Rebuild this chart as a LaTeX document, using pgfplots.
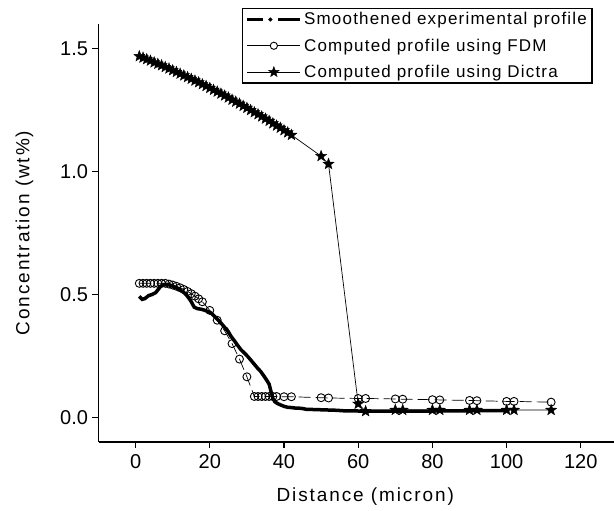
\documentclass[border=0pt]{standalone}
\usepackage{fontspec}
\setmainfont{Liberation Sans}
\newfontfamily\lsfont[LetterSpace=10]{Liberation Sans}
\newfontfamily\lgfont[LetterSpace=7]{Liberation Sans}
\usepackage{pgfplots}
\pgfplotsset{compat=1.18}
\pgfdeclareplotmark{fstar}{%
  \pgfpathmoveto{\pgfpointpolar{90}{\pgfplotmarksize}}%
  \pgfpathlineto{\pgfpointpolar{126}{0.42\pgfplotmarksize}}%
  \pgfpathlineto{\pgfpointpolar{162}{\pgfplotmarksize}}%
  \pgfpathlineto{\pgfpointpolar{198}{0.42\pgfplotmarksize}}%
  \pgfpathlineto{\pgfpointpolar{234}{\pgfplotmarksize}}%
  \pgfpathlineto{\pgfpointpolar{270}{0.42\pgfplotmarksize}}%
  \pgfpathlineto{\pgfpointpolar{306}{\pgfplotmarksize}}%
  \pgfpathlineto{\pgfpointpolar{342}{0.42\pgfplotmarksize}}%
  \pgfpathlineto{\pgfpointpolar{18}{\pgfplotmarksize}}%
  \pgfpathlineto{\pgfpointpolar{54}{0.42\pgfplotmarksize}}%
  \pgfpathclose
  \pgfusepathqfillstroke}
\pgfplotstableread{
x y
1 0.492
1.8 0.480
2.5 0.483
3.5 0.495
4.5 0.500
5.4 0.507
6.2 0.522
6.8 0.534
7.7 0.540
8.6 0.541
9.5 0.537
10.4 0.531
11.5 0.523
12.3 0.515
13.1 0.507
14.0 0.492
14.9 0.473
15.8 0.448
16.7 0.442
17.6 0.440
18.5 0.436
19.4 0.431
20.3 0.425
21.2 0.412
22.1 0.398
23.0 0.384
24.0 0.366
25.0 0.348
25.7 0.330
26.6 0.312
27.5 0.293
28.4 0.275
29.3 0.262
30.2 0.248
31.0 0.234
32.0 0.216
33.0 0.198
33.7 0.187
34.6 0.168
35.4 0.150
36.0 0.135
36.5 0.105
37.0 0.078
37.5 0.064
38.3 0.056
39.2 0.050
40.0 0.045
41.0 0.041
42.0 0.040
43.0 0.038
44.6 0.037
46.0 0.033
48.0 0.032
50.0 0.031
52.0 0.030
54.0 0.029
56.0 0.027
60.0 0.026
70.0 0.026
80.0 0.026
90.0 0.027
100.0 0.028
}\expdata
\pgfplotstableread{
x y
1 0.545
2 0.545
3 0.545
4 0.545
5 0.545
6 0.545
7 0.545
8 0.545
9 0.542
10 0.538
11 0.533
12 0.527
13 0.520
14 0.512
15 0.503
16 0.493
17 0.482
18 0.470
20 0.435
22 0.395
24 0.352
26 0.300
28 0.237
30 0.165
32 0.085
33 0.085
34 0.085
35 0.085
36 0.085
37 0.085
38 0.085
40 0.084
42 0.084
50 0.080
52 0.079
60 0.077
62 0.077
70 0.075
72 0.074
80 0.072
82 0.071
90 0.069
92 0.068
100 0.065
102 0.065
112 0.062
}\fdmdata
\pgfplotstableread{
x y
1 1.468
2 1.462
3 1.456
4 1.450
5 1.443
6 1.437
7 1.431
8 1.424
9 1.418
10 1.411
11 1.404
12 1.397
13 1.390
14 1.383
15 1.376
16 1.369
17 1.362
18 1.354
19 1.347
20 1.339
21 1.331
22 1.324
23 1.316
24 1.308
25 1.300
26 1.291
27 1.283
28 1.275
29 1.266
30 1.258
31 1.249
32 1.240
33 1.232
34 1.223
35 1.214
36 1.205
37 1.195
38 1.186
39 1.177
40 1.167
41 1.158
42 1.148
50 1.062
52 1.030
60 0.055
62 0.025
70 0.030
72 0.030
80 0.030
82 0.030
90 0.030
92 0.030
100 0.030
102 0.030
112 0.030
}\dictradata
\begin{document}
\begin{tikzpicture}
\path[use as bounding box] (0,0) rectangle (614bp,511bp);
\begin{axis}[
  at={(98.5bp,69bp)}, anchor=south west,
  scale only axis, width=519.4bp, height=418.2bp,
  xmin=-10, xmax=130, ymin=-0.1, ymax=1.6,
  axis x line*=bottom, axis y line*=left,
  axis line style={line width=1.3bp, -},
  xtick={0,20,...,120}, ytick={0,0.5,1,1.5},
  minor tick num=0,
  tick align=outside, major tick length=6bp,
  every tick/.style={black, line width=1.3bp},
  /pgf/number format/assume math mode=true,
  tick label style={font=\fontsize{20bp}{23bp}\selectfont},
  xticklabel style={yshift=-3bp},
  yticklabel style={xshift=-1bp, /pgf/number format/.cd, fixed, fixed zerofill, precision=1},
  xlabel={Distance (micron)},
  ylabel={Concentration (wt\%)},
  every axis x label/.style={at={(axis description cs:0.5,0)}, anchor=center, yshift=-55bp, xshift=7bp, font=\fontsize{19bp}{22bp}\selectfont\lsfont},
  every axis y label/.style={at={(axis description cs:0,0.5)}, xshift=-74bp, rotate=90, anchor=center, font=\fontsize{19bp}{22bp}\selectfont\lsfont},
  legend style={at={(axis description cs:0.2763,1.0378)}, anchor=north west, draw=black, line width=1.2bp,
    font=\fontsize{17bp}{20bp}\selectfont\lgfont, inner xsep=3bp, inner ysep=2bp, row sep=8.5bp},
  legend cell align=left,
]
\addplot[black, line width=3.5bp, forget plot] table {\expdata};
\addplot[black, line width=0.7bp, dash pattern=on 12bp off 5bp, mark=o, mark size=4bp,
  mark options={solid, fill=white, line width=0.9bp}, forget plot] table {\fdmdata};
\addplot[black, line width=0.7bp, mark=fstar, mark size=5.8bp,
  mark options={solid, fill=black, line width=0.4bp}, forget plot] table {\dictradata};
\addlegendimage{legend image code/.code={
  \draw[black, line width=3.5bp] (0bp,0bp) -- (16bp,0bp);
  \fill[black] (23bp,0bp) circle (1.3bp);
  \draw[black, line width=3.5bp] (31bp,0bp) -- (53bp,0bp);}}
\addlegendentry{Smoothened experimental profile}
\addlegendimage{legend image code/.code={
  \draw[black, line width=0.9bp] (0bp,0bp) -- (53bp,0bp);
  \draw[black, fill=white, line width=0.9bp] (26.5bp,0bp) circle (3.6bp);}}
\addlegendentry{Computed profile using FDM}
\addlegendimage{legend image code/.code={
  \draw[black, line width=0.9bp] (0bp,0bp) -- (53bp,0bp);
  \draw[black, line width=0.9bp] plot[mark=fstar, mark size=5.5bp, mark options={fill=black, line width=0.4bp}] coordinates {(26.5bp,0bp)};}}
\addlegendentry{Computed profile using Dictra}
\end{axis}
\end{tikzpicture}
\end{document}
